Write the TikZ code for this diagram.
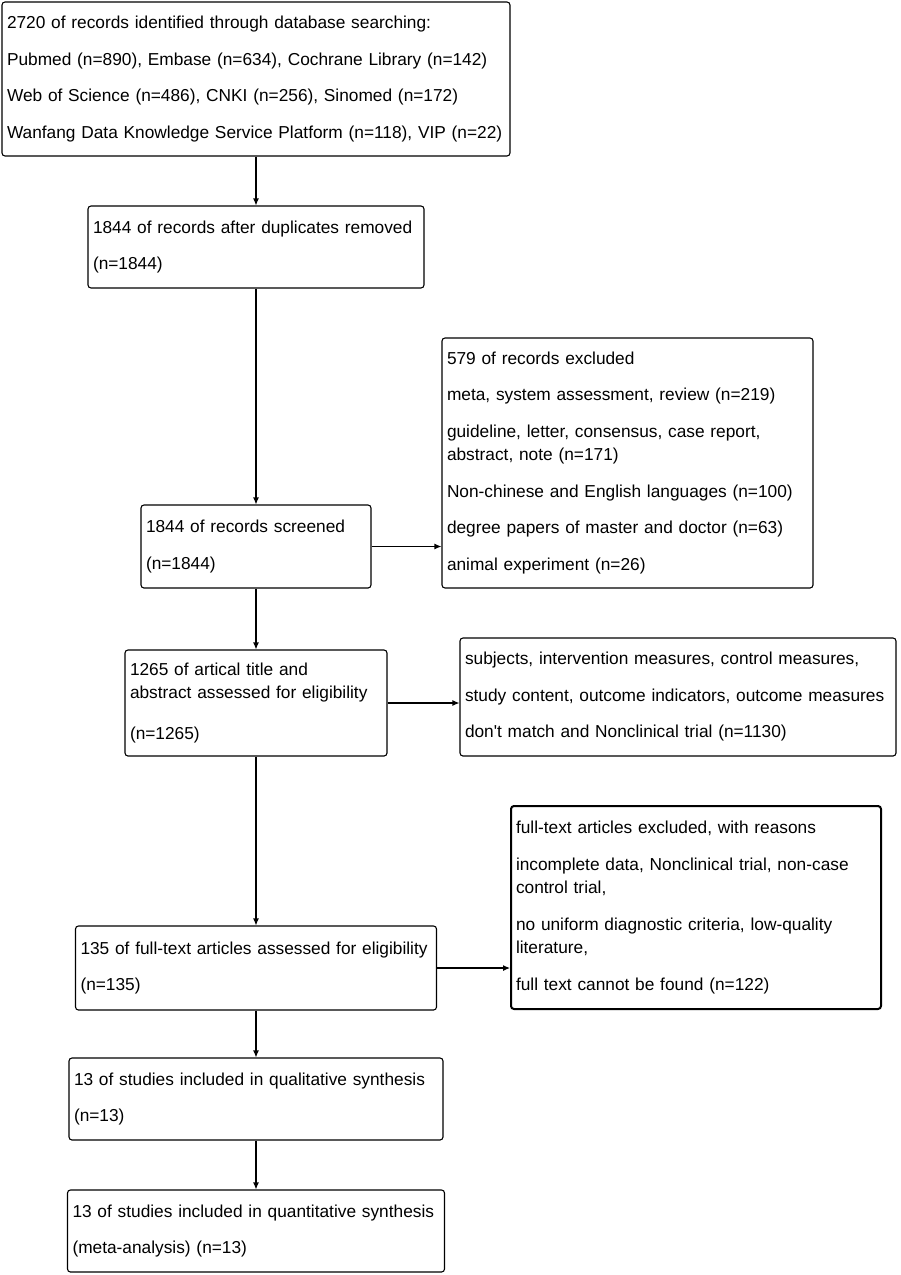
\documentclass[tikz,border=0pt]{standalone}
\usepackage{fontspec}
\setmainfont{Liberation Sans}
\usetikzlibrary{arrows.meta}

\begin{document}
\begin{tikzpicture}[x=1pt, y=-1pt, boxx/.style={draw, rounded corners=3pt,
		line width=1.1pt, align=left, inner xsep=5pt, inner ysep=0pt,
		font=\fontsize{17.3}{23.5}\selectfont}, arr/.style={line width=1.1pt,
		-{Latex[length=7pt,width=6pt]}}]
	\useasboundingbox (0,0) rectangle (901,1275);
	\node [boxx, text width=498pt, minimum height=154pt] (1) at (256,79) {2720 of records identified through database searching:\\[13pt]
		Pubmed (n=890), Embase (n=634), Cochrane Library (n=142)\\[13pt]
		Web of Science (n=486), CNKI (n=256), Sinomed (n=172)\\[13pt]
		Wanfang Data Knowledge Service Platform (n=118), VIP (n=22)};
	\node [boxx, text width=326pt, minimum height=82pt] (2) at (256,247) {1844 of records after duplicates removed\\[13pt] (n=1844)};
	\node [boxx, text width=361pt, minimum height=250pt] (3) at (627.5,463) {579 of records excluded\\[13pt]
		meta, system assessment, review (n=219)\\[13pt]
		guideline, letter, consensus, case report,\\ abstract, note (n=171)\\[13pt]
		Non-chinese and English languages (n=100)\\[13pt]
		degree papers of master and doctor (n=63)\\[13pt]
		animal experiment (n=26)};
	\node [boxx, text width=220pt, minimum height=83pt] (4) at (256,546.5) {1844 of records screened\\[13pt] (n=1844)};
	\node [boxx, text width=252pt, minimum height=106pt] (5) at (256,703) {1265 of artical title and\\ abstract assessed for eligibility\\[17pt] (n=1265)};
	\node [boxx, text width=426pt, minimum height=118pt] (6) at (678,697) {subjects, intervention measures, control measures,\\[13pt]
		study content, outcome indicators, outcome measures\\[13pt]
		don\textquotesingle t match and Nonclinical trial (n=1130)};
	\node [boxx, line width=2pt, text width=360pt, minimum height=203pt] (7) at (696,907.5) {full-text articles excluded, with reasons\\[13pt]
		incomplete data, Nonclinical trial, non-case\\ control trial,\\[13pt]
		no uniform diagnostic criteria, low-quality\\ literature,\\[13pt]
		full text cannot be found (n=122)};
	\node [boxx, text width=351pt, minimum height=84pt] (8) at (256,968) {135 of full-text articles assessed for eligibility\\[13pt] (n=135)};
	\node [boxx, text width=364pt, minimum height=82pt] (9) at (256,1099) {13 of studies included in qualitative synthesis\\[13pt] (n=13)};
	\node [boxx, text width=367pt, minimum height=82pt] (10) at (256,1231) {13 of studies included in quantitative synthesis\\[13pt] (meta-analysis) (n=13)};
	\draw [arr] (1)--(2);
	\draw [arr] (2)--(4);
	\draw [arr] (4)--(5);
	\draw [arr] (5)--(8);
	\draw [arr] (8)--(9);
	\draw [arr] (9)--(10);
	\draw [arr] (4.east)--(4.east -| 3.west);
	\draw [arr] (5.east)--(5.east -| 6.west);
	\draw [arr] (8.east)--(8.east -| 7.west);
\end{tikzpicture}
\end{document}
